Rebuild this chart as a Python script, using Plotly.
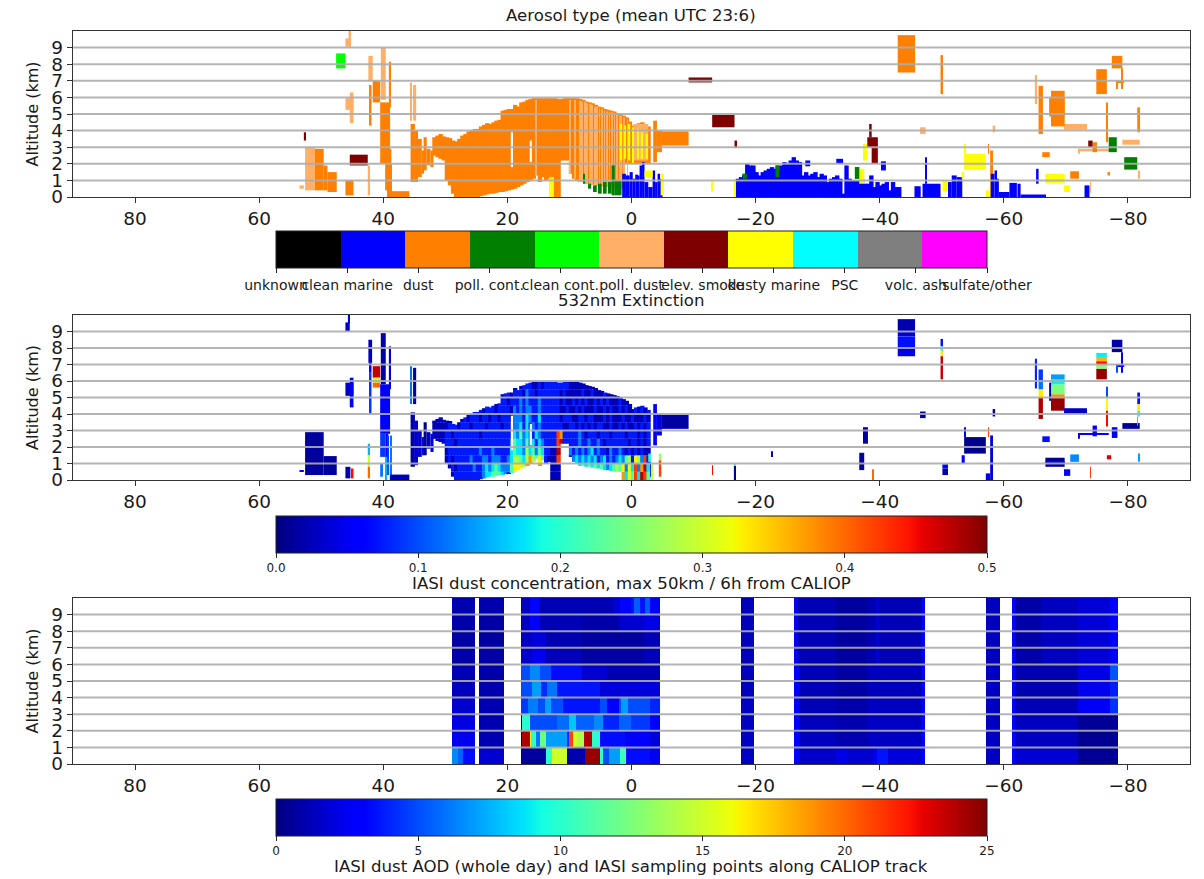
import plotly.graph_objects as go

# ---------- tick labels / categories ----------
LON_TICKS = [80, 60, 40, 20, 0, -20, -40, -60, -80]
ALT_TICKS = [0, 1, 2, 3, 4, 5, 6, 7, 8, 9]
TYPE_NAMES = ["unknown", "clean marine", "dust", "poll. cont.", "clean cont.", "poll. dust",
              "elev. smoke", "dusty marine", "PSC", "volc. ash", "sulfate/other"]
TYPE_COLORS = ["#000000", "#0000ff", "#ff7f00", "#007f00", "#00ff00", "#ffb066",
               "#7f0000", "#ffff00", "#00ffff", "#7f7f7f", "#ff00ff"]
EXT_TICKS = [0.0, 0.1, 0.2, 0.3, 0.4, 0.5]
CONC_TICKS = [0, 5, 10, 15, 20, 25]

# ---------- dome of the Saharan dust layer: half-degree columns from 32E westward ----------
DOME_START = 32.0
DOME_STEP = 0.5
DOME_TOP = [3.6, 3.7, 3.8, 3.65, 3.6, 3.55, 3.4, 3.35, 3.5, 3.7, 3.8, 3.95, 4.0, 4.1, 4.1, 4.25, 4.35, 4.45, 4.4, 4.5,
            4.6, 4.65, 5.2, 5.25, 5.3, 5.3, 5.55, 5.45, 5.7, 5.75, 5.85, 5.9, 5.95, 5.95, 5.95, 5.95, 5.95, 5.95, 5.95, 5.95,
            5.9, 5.9, 5.95, 5.95, 5.95, 5.95, 5.95, 5.9, 5.85, 5.75, 5.7, 5.65, 5.55, 5.45, 5.4, 5.3, 5.25, 5.2, 5.15, 5.05,
            5.0, 4.9, 4.8, 4.55, 4.3, 4.4, 4.45, 4.5, 4.4, 4.25]
DOME_BOTTOM = [2.5, 2.4, 2.3, 2.2, 1.0, 0.7, 0.2, 0, 0, 0, 0, 0, 0, 0, 0, 0.05, 0.1, 0.15, 0.2, 0.2,
               0.25, 0.3, 0.3, 0.35, 0.4, 0.45, 0.5, 0.6, 0.7, 0.8, 0.9, 1.0, 1.1, 1.3, 0.9, 1.2, 1.0, 1.1, 0, 0,
               0, 2.2, 2.2, 2.2, 1.4, 1.1, 1.0, 0.9, 0.9, 0.8, 0.8, 0.75, 0.7, 0.7, 0.65, 0.6, 0.6, 0.55, 0.5, 0.5,
               0.5, 0, 0, 0, 0, 0, 0, 0, 0, 0]

# extinction in the dome, one string per 0.5 km band (lowest first), digit d = 0.025 + 0.05 d
DOME_EXT_ROWS = [
    "0000000111" "1111112334" "4432146779" "9989999900" "0023343454" "6474573545" "3736483984",
    "0000001011" "1112112323" "4322246665" "7867746800" "0312234343" "4343432345" "4626382793",
    "0000010111" "1121112212" "2211235543" "5754641000" "8312123232" "3231231212" "3245165281",
    "0001011111" "1111121112" "1111134332" "5342431100" "9711212121" "2312110211" "2101010100",
    "0000111011" "1111111111" "1111124332" "4231321111" "8911111211" "2112101111" "1110110101",
    "0000110111" "1111101111" "1111113242" "3213211111" "8711111210" "1110111011" "1101110101",
    "0000011101" "1101111011" "1101112231" "3121211111" "1100110101" "0101100100" "1010010101",
    "0000001110" "1011101101" "1011102221" "3211311111" "1011100110" "1100010100" "0100100010",
    "0000000000" "0101110111" "0111102121" "2211211111" "1001001010" "0010010100" "1010010101",
    "0000000000" "0000000000" "0111011121" "2111211111" "1010010101" "0010101000" "1000100000",
    "0000000000" "0000000000" "0101101110" "2110111111" "1010000010" "0100010000" "0000000000",
    "0000000000" "0000000000" "0000000001" "1100101111" "1111000000" "0000000000" "0000000000",
]
DOME_GAPS = [(19.45, 19.15, 1.8, 3.9), (16.4, 16.05, 2.1, 3.4)]

# ---------- aerosol type blocks: lon left, lon right, bottom km, top km ----------
POLL_DUST_BLOCKS = [
    (53.5, 52.8, 0.5, 0.7), (52.6, 51.0, 0.4, 3.0), (46.1, 45.3, 9.05, 9.55), (45.6, 45.3, 9.0, 10.0),
    (46.1, 44.8, 5.25, 5.95), (45.4, 44.8, 4.45, 6.3), (42.5, 42.2, 0.1, 1.9), (42.4, 41.7, 7.0, 8.5),
    (40.4, 39.6, 5.85, 9.0), (35.6, 35.4, 4.6, 6.9), (35.2, 34.7, 4.6, 6.75),
    (-0.3, -2.7, 2.2, 4.4), (-46.5, -47.4, 3.8, 4.2), (-58.2, -58.6, 3.9, 4.3), (-65.0, -65.2, 5.6, 7.35),
    (-69.7, -73.4, 4.05, 4.4), (-72.1, -77.0, 2.75, 2.9), (-79.1, -81.9, 3.15, 3.45), (-81.7, -81.8, 1.1, 1.6),
    (-73.9, -74.0, 0.25, 0.9), (-72.1, -72.2, 2.6, 2.9),
]
DUST_STRIPES = [15.5, 10.0, 9.2, 8.4, 8.0, 7.6, 7.2, 6.8, 6.4, 6.0, 5.6, 5.2, 4.8, 4.4, 4.0, 3.6, 3.2, 2.8, 2.4, 2.0, 1.7, 1.3, 0.7]
DUST_BLOCKS = [
    (51.0, 49.6, 0.4, 2.9), (49.6, 49.0, 0.4, 1.9), (49.0, 47.5, 0.3, 1.5), (46.1, 44.8, 0.1, 1.0),
    (42.3, 41.9, 4.3, 6.75), (41.7, 40.5, 5.7, 7.0), (40.5, 38.9, 2.6, 5.7), (40.5, 39.4, 2.0, 2.6),
    (39.1, 38.8, 5.4, 8.15), (39.7, 38.7, 0.4, 2.9), (39.4, 38.6, 0.0, 2.0), (38.9, 35.8, 0.0, 0.35),
    (35.6, 34.9, 0.9, 4.4), (34.9, 34.4, 0.9, 4.0), (34.4, 33.8, 1.2, 3.5), (33.8, 33.5, 1.4, 2.8), (33.5, 33.0, 1.6, 3.6),
    (33.0, 32.4, 1.9, 2.9), (32.4, 31.9, 1.8, 2.8), (-3.5, -4.1, 2.1, 4.6), (-4.1, -4.9, 2.7, 4.0), (-4.9, -9.2, 3.1, 3.95),
    (-42.9, -45.7, 7.5, 9.75), (-49.8, -50.1, 6.2, 8.55), (-57.5, -57.6, 2.6, 3.2), (-57.8, -58.1, 0.0, 2.8),
    (-65.6, -66.3, 3.8, 6.7), (-67.3, -69.8, 4.85, 6.0), (-67.6, -69.8, 4.25, 6.4), (-66.2, -67.4, 2.4, 2.7),
    (-70.7, -72.1, 1.1, 1.55), (-74.3, -75.0, 2.7, 3.3), (-74.9, -76.6, 6.2, 7.7), (-76.6, -76.7, 3.3, 5.7),
    (-76.7, -77.0, 1.3, 1.5), (-77.4, -79.1, 7.75, 8.5), (-79.0, -79.2, 6.5, 7.75), (-78.2, -79.4, 6.9, 7.0),
    (-78.2, -78.3, 6.5, 7.0), (-81.5, -81.8, 3.9, 5.4),
]
CLEAN_CONT_BLOCKS = [(47.6, 46.1, 7.75, 8.65)]
SMOKE_BLOCKS = [
    (52.8, 52.6, 3.4, 3.9), (45.4, 42.5, 1.9, 2.55), (-9.2, -13.0, 6.9, 7.2), (-13.0, -16.6, 4.2, 4.95),
    (-16.6, -17.0, 2.95, 3.4), (-38.0, -39.7, 3.0, 3.6), (-38.7, -39.7, 2.0, 3.0), (-38.3, -38.7, 3.6, 4.4),
    (-73.6, -74.3, 3.0, 3.4),
]
POLL_CONT_BLOCKS = [
    (7.8, 7.5, 0.8, 1.4), (7.0, 6.5, 0.5, 0.8), (6.2, 5.6, 0.3, 0.7), (5.4, 4.8, 0.2, 0.8), (4.6, 4.0, 0.2, 0.9),
    (3.8, 3.2, 0.2, 0.9), (3.2, 2.7, 0.1, 1.9), (2.7, 1.6, 0.1, 1.0),
    (-23.2, -23.8, 1.2, 1.9), (-17.9, -18.6, 1.1, 1.4), (-36.0, -36.7, 1.1, 1.8), (-76.9, -78.2, 2.7, 3.6),
    (-79.4, -81.5, 1.65, 2.4),
]
MARINE_START = -16.9
MARINE_STEP = -0.5
MARINE_TOPS = [1.1, 1.2, 1.3, 2.0, 1.9, 1.9, 1.5, 1.3, 1.5, 1.6, 1.7, 1.8, 1.7, 1.6, 1.9, 2.1, 2.0, 2.2, 2.4, 2.2,
               2.1, 1.3, 1.5, 1.3, 1.4, 1.5, 1.2, 1.4, 1.3, 0.9, 1.1, 1.2, 1.3, 1.1, 0.2, 1.9, 1.1, 1.0, 1.0, 1.0,
               1.1, 0.8, 0.8, 1.3, 0.6, 0.9, 0.7, 0.8, 0.9, 0.4, 0.9, 0.6, 0.6]
MARINE_BLOCKS = [
    (1.5, 0.9, 0.0, 1.4), (0.9, 0.3, 0.0, 1.3), (0.3, -0.2, 0.0, 1.5), (-0.2, -0.6, 0.0, 1.1), (-0.6, -0.9, 0.0, 1.35),
    (-0.9, -1.3, 0.0, 1.3), (-1.3, -1.7, 0.0, 1.9), (-1.7, -2.1, 0.0, 2.1), (-2.1, -2.7, 0.0, 0.9), (-2.7, -3.4, 0.0, 0.6),
    (-3.4, -3.8, 0.0, 1.6), (-3.8, -4.2, 0.0, 0.9), (-4.2, -4.6, 0.0, 1.4), (-4.6, -5.0, 0.0, 1.1),
    (-28.0, -28.8, 1.85, 2.2), (-33.0, -34.1, 2.0, 2.3), (-40.2, -41.0, 1.6, 2.15), (-45.6, -46.6, 0.0, 0.65),
    (-46.9, -49.8, 0.0, 0.8), (-47.3, -47.6, 0.8, 2.4), (-51.0, -51.6, 0.0, 0.9), (-51.6, -52.4, 0.0, 1.3),
    (-52.4, -53.3, 0.0, 1.2), (-57.9, -58.5, 0.0, 1.4), (-58.5, -58.8, 0.0, 1.6), (-58.8, -59.2, 0.0, 1.1),
    (-59.2, -60.9, 0.0, 0.3), (-60.9, -62.1, 0.0, 0.85), (-62.2, -62.7, 0.0, 0.8), (-62.7, -66.8, 0.0, 0.15),
    (-65.2, -65.6, 0.8, 1.7), (-73.0, -73.8, 0.0, 0.7),
]
DUSTY_MARINE_BLOCKS = [
    (1.9, 1.5, 2.2, 4.4), (1.2, 0.9, 2.3, 4.3), (0.6, 0.2, 2.2, 4.4), (-0.1, -0.4, 2.0, 4.2), (-0.9, -1.1, 2.3, 4.1),
    (-1.5, -1.7, 2.3, 3.9), (-2.3, -2.5, 2.3, 3.8), (-2.1, -3.4, 1.2, 1.6), (-4.7, -5.2, 0.1, 1.4),
    (13.3, 12.5, 0.0, 1.2), (-12.9, -13.1, 0.35, 1.0), (-16.5, -16.8, 0.0, 1.0), (-36.7, -37.5, 0.8, 1.7),
    (-37.3, -38.0, 2.2, 3.2), (-50.1, -51.0, 0.35, 1.0), (-53.2, -53.6, 1.1, 1.5), (-53.6, -57.1, 1.65, 2.6),
    (-53.6, -53.9, 2.6, 3.2), (-57.1, -57.6, 0.0, 0.4), (-66.7, -69.8, 0.85, 1.4), (-69.7, -70.7, 0.3, 0.7),
]

# ---------- extinction blocks: lon left, lon right, bottom km, top km, extinction ----------
EXT_LEFT_BLOCKS = [
    (53.5, 52.8, 0.5, 0.6, 0.06), (52.6, 49.6, 0.3, 2.9, 0.012), (49.6, 47.5, 0.3, 1.45, 0.012),
    (46.1, 45.4, 9.0, 9.55, 0.03), (45.7, 45.4, 9.5, 10.0, 0.05), (46.1, 44.8, 5.1, 5.9, 0.03),
    (45.4, 44.8, 4.4, 6.2, 0.05), (46.1, 45.3, 0.1, 0.8, 0.02), (45.2, 44.8, 0.1, 0.7, 0.45),
    (42.5, 42.2, 1.5, 2.2, 0.15), (42.5, 42.2, 0.8, 1.5, 0.3), (42.5, 42.2, 0.1, 0.8, 0.4),
    (42.4, 41.8, 7.1, 8.5, 0.03), (42.3, 41.9, 6.5, 7.1, 0.05), (42.3, 41.9, 4.0, 6.5, 0.09),
    (41.7, 40.5, 6.2, 6.9, 0.47), (41.7, 40.5, 5.9, 6.2, 0.3), (41.7, 40.5, 5.6, 5.9, 0.4),
    (40.4, 39.6, 5.8, 8.9, 0.02), (40.5, 38.9, 2.8, 5.8, 0.06), (40.5, 39.6, 1.4, 2.8, 0.09),
    (39.6, 39.2, 1.4, 2.8, 0.05), (39.1, 38.8, 5.5, 8.1, 0.04),
    (40.5, 40.2, 0.2, 1.0, 0.12), (39.7, 39.4, 0.0, 1.4, 0.15), (39.4, 39.1, 0.3, 2.7, 0.09), (39.1, 38.9, 0.0, 1.2, 0.3),
    (38.9, 38.6, 0.0, 2.7, 0.12), (38.9, 35.8, 0.0, 0.33, 0.03),
    (35.6, 35.4, 4.6, 6.9, 0.12), (35.2, 34.7, 4.6, 6.8, 0.02), (35.6, 34.9, 0.8, 4.1, 0.02), (34.9, 34.4, 0.9, 3.6, 0.04),
    (34.4, 33.8, 1.4, 3.0, 0.03), (33.8, 33.5, 1.5, 2.6, 0.05), (33.5, 33.0, 1.5, 3.5, 0.01), (33.0, 32.4, 1.9, 2.9, 0.03),
    (32.4, 31.9, 1.7, 2.8, 0.04),
]
EXT_TAIL_BLOCKS = [
    (-3.5, -4.1, 2.1, 4.6, 0.06), (-4.1, -4.9, 2.7, 4.0, 0.04), (-4.9, -9.2, 3.1, 3.95, 0.015),
    (-2.7, -3.0, 1.1, 1.6, 0.2), (-3.0, -3.2, 0.2, 1.0, 0.08), (-3.2, -3.4, 0.0, 1.0, 0.3),
    (-4.4, -4.8, 0.2, 1.2, 0.42), (-4.4, -4.8, 1.2, 1.6, 0.27),
    (-13.0, -13.1, 0.3, 0.9, 0.45), (-16.5, -16.8, 0.0, 0.9, 0.01), (-16.5, -16.8, 0.9, 0.95, 0.2),
    (-22.6, -22.8, 1.4, 1.75, 0.03),
]
EXT_SOUTH_BLOCKS = [
    (-36.7, -37.5, 0.6, 1.65, 0.015), (-37.3, -38.1, 2.2, 3.2, 0.015), (-38.9, -39.0, 0.0, 0.65, 0.4),
    (-42.9, -45.7, 9.0, 9.75, 0.02), (-42.9, -45.7, 8.7, 9.0, 0.04), (-42.9, -45.7, 8.0, 8.7, 0.07),
    (-42.9, -45.7, 7.5, 8.0, 0.045),
    (-46.5, -47.4, 3.75, 4.15, 0.015),
    (-49.8, -50.1, 8.1, 8.55, 0.07), (-49.8, -50.1, 7.8, 8.1, 0.2), (-49.8, -50.1, 7.5, 7.8, 0.33), (-49.8, -50.1, 6.1, 7.5, 0.47),
    (-50.1, -51.0, 0.3, 0.7, 0.02), (-50.1, -51.0, 0.7, 0.95, 0.06), (-53.2, -53.7, 1.0, 1.5, 0.05),
    (-53.6, -57.1, 1.6, 2.6, 0.005), (-53.6, -53.9, 2.6, 3.2, 0.05), (-57.5, -57.6, 2.6, 3.2, 0.42),
    (-57.1, -57.8, 0.0, 0.4, 0.05), (-57.8, -58.1, 0.0, 2.7, 0.04), (-58.2, -58.6, 3.85, 4.3, 0.015),
]
EXT_FAR_SOUTH_BLOCKS = [
    (-65.0, -65.2, 5.55, 7.35, 0.08),
    (-65.6, -66.3, 3.7, 5.0, 0.48), (-65.6, -66.3, 5.0, 5.5, 0.33), (-65.6, -66.3, 5.5, 6.0, 0.12), (-65.6, -66.3, 6.0, 6.7, 0.09),
    (-67.3, -67.7, 4.8, 5.9, 0.02),
    (-67.6, -69.8, 4.2, 5.0, 0.49), (-67.6, -69.8, 5.0, 5.2, 0.38), (-67.6, -69.8, 5.2, 5.8, 0.25),
    (-67.6, -69.8, 5.8, 6.1, 0.18), (-67.6, -69.8, 6.1, 6.4, 0.14),
    (-69.7, -73.4, 4.0, 4.35, 0.03), (-66.2, -67.4, 2.3, 2.65, 0.07), (-66.7, -69.8, 0.8, 1.35, 0.01),
    (-66.7, -69.8, 1.05, 1.1, 0.05), (-69.7, -70.7, 0.25, 0.65, 0.06), (-70.7, -72.1, 1.1, 1.55, 0.13),
    (-73.9, -74.0, 0.1, 0.8, 0.42), (-72.1, -76.9, 2.75, 2.85, 0.06), (-72.1, -72.2, 2.5, 2.85, 0.06),
    (-74.3, -75.0, 2.65, 3.3, 0.05),
    (-74.9, -76.6, 6.1, 6.75, 0.49), (-74.9, -76.6, 6.75, 7.0, 0.26), (-74.9, -76.6, 7.0, 7.2, 0.45),
    (-74.9, -76.6, 7.2, 7.4, 0.36), (-74.9, -76.6, 7.4, 7.7, 0.18),
    (-76.6, -76.7, 5.0, 5.65, 0.1), (-76.6, -76.7, 4.2, 5.0, 0.32), (-76.6, -76.7, 3.25, 4.2, 0.45),
    (-76.6, -77.3, 1.25, 1.5, 0.46), (-77.4, -78.3, 2.55, 3.2, 0.05),
    (-77.4, -79.1, 7.75, 8.5, 0.015), (-79.0, -79.2, 6.5, 7.75, 0.05), (-78.2, -79.4, 6.9, 7.0, 0.06), (-78.2, -78.3, 6.5, 7.0, 0.1),
    (-79.1, -81.9, 3.1, 3.45, 0.01), (-81.5, -81.8, 4.6, 5.3, 0.07), (-81.5, -81.8, 4.2, 4.6, 0.33), (-81.5, -81.8, 3.85, 4.2, 0.2),
    (-81.5, -81.6, 3.3, 3.85, 0.17), (-81.7, -81.8, 1.1, 1.6, 0.14),
]

# ---------- IASI dust concentration: (western-bound start lon, value) runs, one per km band ----------
IASI_BLOCKS = [(28.9, 25.2), (24.5, 20.6), (17.8, -4.6), (-17.7, -19.8), (-26.3, -47.4), (-57.3, -59.4), (-61.4, -61.7), (-61.85, -78.4)]
SOUTH_UPPER = [(-17.7, 1.3), (-26.3, 3.0), (-26.9, 1.2), (-33, 0.7), (-38, 1.1), (-39.5, 1.7), (-40, 1.2), (-46.8, 3.0),
               (-57.3, 1.4), (-61.4, 3.2), (-61.85, 0.9), (-66, 1.4), (-72, 1.9), (-77.3, 3.0)]
IASI_R0 = [(28.9, 6.5), (28.0, 5.5), (27.2, 3.4), (24.5, 1.7), (17.8, 0.6), (13.7, 10), (12.8, 15), (10.3, 1.0), (7.3, 24.5),
           (5.0, 10), (4.5, 5.0), (3.5, 7), (1.8, 10.5), (0.8, 3.4), (-3, 2.5), (-17.7, 1.5), (-26.3, 3.0), (-27, 1.6), (-33, 2.2),
           (-35, 1.7), (-39, 2.4), (-39.6, 3.6), (-41.5, 2.0), (-46.8, 3.2), (-57.3, 1.5), (-61.4, 3.2), (-61.85, 1.8), (-72.1, 0.5)]
IASI_R1 = [(28.9, 2.4), (24.5, 1.1), (17.6, 24), (16.4, 16), (16.1, 10), (15.3, 6), (14.7, 12), (13.7, 7), (10.4, 4),
           (9.9, 21), (9.3, 15), (8.8, 14), (7.6, 24), (6.4, 10), (5.0, 3.4), (1, 2.8), (-3, 2.0), (-17.7, 1.5), (-26.3, 2.8),
           (-27, 1.4), (-33, 1.0), (-38, 1.5), (-46.8, 3.0), (-57.3, 1.5), (-61.4, 3.2), (-61.85, 1.4), (-72.1, 0.4)]
IASI_R2 = [(28.9, 2.1), (24.5, 1.1), (17.6, 10), (16.4, 5), (12, 5.8), (9.9, 8), (9.0, 5.5), (6, 6.5), (4.5, 4), (2, 5.5),
           (0, 4.5), (-3, 3.0), (-17.7, 1.5), (-26.3, 2.8), (-27, 1.3), (-33, 1.0), (-38, 1.5), (-46.8, 2.8), (-57.3, 1.5),
           (-61.4, 3.2), (-61.85, 1.4), (-72.1, 0.5)]
IASI_R3 = [(28.9, 1.7), (24.5, 1.1), (17.8, 4.5), (16.5, 6.2), (15, 5), (14, 7), (13, 5), (11, 3.6), (5, 5), (4, 3),
           (2, 5), (1.5, 7), (0.5, 5), (-3, 4), (-17.7, 1.5), (-26.3, 2.8), (-27, 1.2), (-33, 0.9), (-38, 1.4), (-46.8, 2.8),
           (-57.3, 1.5), (-61.4, 3.2), (-61.85, 1.2), (-72.1, 2.6), (-77.3, 4.3)]
IASI_R4 = [(28.9, 1.3), (24.5, 1.0), (17.8, 5), (16, 7), (14.5, 4.2), (13.5, 6), (12, 3.6), (5, 2.0), (-17.7, 1.3), (-26.3, 2.8),
           (-27, 1.2), (-33, 0.8), (-38, 1.3), (-46.8, 2.8), (-57.3, 1.5), (-61.4, 3.2), (-61.85, 1.1), (-72.1, 2.4), (-77.3, 3.8)]
IASI_R5 = [(28.9, 1.1), (24.5, 0.9), (17.8, 5), (16.3, 6.5), (14.7, 5), (13, 3.4), (8, 1.7), (4, 1.1), (-17.7, 1.3), (-26.3, 2.8),
           (-27, 1.2), (-33, 0.7), (-38, 1.3), (-46.8, 2.8), (-57.3, 1.5), (-61.4, 3.2), (-61.85, 1.0), (-72.1, 2.2), (-77.3, 5.2)]
IASI_R6 = [(28.9, 0.9), (24.5, 0.8), (17.8, 1.6), (16, 2.4), (14, 1.3), (8, 0.8), (-2, 1.3)] + SOUTH_UPPER
IASI_R7 = [(28.9, 0.8), (24.5, 0.7), (17.8, 1.5), (16, 2.0), (14, 1.1), (8, 0.7), (-2, 1.2)] + SOUTH_UPPER
IASI_R8 = [(28.9, 0.9), (24.5, 0.8), (17.8, 1.4), (16.3, 2.8), (14.7, 1.2), (8, 0.9), (2, 1.8), (-2, 2.2)] + SOUTH_UPPER
IASI_R9 = [(28.9, 1.1), (24.5, 1.0), (17.8, 1.5), (16.3, 3.2), (14.7, 1.2), (3, 1.9), (1.8, 3.2), (0, 3.6), (-0.5, 5.4),
           (-1.5, 3.6), (-2.2, 5.4), (-3, 3.0)] + SOUTH_UPPER
IASI_ROWS = [IASI_R0, IASI_R1, IASI_R2, IASI_R3, IASI_R4, IASI_R5, IASI_R6, IASI_R7, IASI_R8, IASI_R9]
IASI_GRID_STEP = 0.2

# ---------- helpers ----------
def mpl_jet():
    pts = [0, 0.11, 0.125, 0.34, 0.35, 0.375, 0.64, 0.65, 0.66, 0.89, 0.91, 1]
    def lerp(t, tbl):
        for (a, va), (b, vb) in zip(tbl, tbl[1:]):
            if a <= t <= b:
                return va + (vb - va) * (t - a) / (b - a)
    R = [(0, 0), (0.35, 0), (0.66, 1), (0.89, 1), (1, 0.5)]
    G = [(0, 0), (0.125, 0), (0.375, 1), (0.64, 1), (0.91, 0), (1, 0)]
    B = [(0, 0.5), (0.11, 1), (0.34, 1), (0.65, 0), (1, 0)]
    return [[t, f"rgb({lerp(t,R)*255:.0f},{lerp(t,G)*255:.0f},{lerp(t,B)*255:.0f})"] for t in pts]

JET = mpl_jet()
TYPE_SCALE = []
for k, c in enumerate(TYPE_COLORS):
    TYPE_SCALE += [[k / 11, c], [(k + 1) / 11, c]]

W, H = 1204, 879
AX_L, AX_R = 73, 1190
PANELS = [(31, 197), (315, 480), (598, 764)]
CBARS = [231, 516, 799]
CB_L, CB_W, CB_T = 276, 711, 37
FONT = "DejaVu Sans"
TXT = "#1a1a1a"
AX_IDS = ["", "2", "3"]
OVERLAP = 0.1   # half-degree columns overlap by this much on each side, so no seam shows


def bar_trace(blocks, colors, suffix, **marker):
    return go.Bar(
        x=[(b[0] + b[1]) / 2 for b in blocks], width=[abs(b[0] - b[1]) for b in blocks],
        base=[b[2] for b in blocks], y=[b[3] - b[2] for b in blocks],
        marker=dict(color=colors, line=dict(width=0), **marker),
        xaxis=f"x{suffix}", yaxis=f"y{suffix}", showlegend=False, hoverinfo="skip")


def colorbar(top, tickvals, ticktext, size):
    return dict(orientation="h", lenmode="pixels", len=CB_W, thicknessmode="pixels", thickness=CB_T,
                x=CB_L / W, xanchor="left", xref="paper", y=1 - top / H, yanchor="top", yref="paper",
                tickvals=tickvals, ticktext=ticktext, ticks="outside", ticklen=5, tickwidth=1, tickcolor="#222",
                tickangle=0, tickfont=dict(family=FONT, size=size, color=TXT), outlinecolor="#222", outlinewidth=1,
                ypad=0, xpad=0)


# ---------- panel 1: aerosol type ----------
def dome_lon(i):
    return DOME_START - DOME_STEP * i

type_blocks, type_codes = [], []
def add_type(blocks, code):
    for b in blocks:
        type_blocks.append(b)
        type_codes.append(code + 0.5)

add_type([(dome_lon(i) + OVERLAP, dome_lon(i + 1) - OVERLAP,
           max(DOME_BOTTOM[i], 2.0) if i >= 61 else DOME_BOTTOM[i], DOME_TOP[i])
          for i in range(len(DOME_TOP))], 2)
add_type([(s, s - 0.12, DOME_BOTTOM[int((DOME_START - s) / DOME_STEP)], DOME_TOP[int((DOME_START - s) / DOME_STEP)] - 0.1)
          for s in DUST_STRIPES], 5)
add_type(POLL_DUST_BLOCKS, 5)
add_type(DUST_BLOCKS, 2)
add_type(CLEAN_CONT_BLOCKS, 4)
add_type(POLL_CONT_BLOCKS, 3)
add_type([(MARINE_START + MARINE_STEP * k + OVERLAP, MARINE_START + MARINE_STEP * (k + 1) - OVERLAP, 0.0, t)
          for k, t in enumerate(MARINE_TOPS)], 1)
add_type(MARINE_BLOCKS, 1)
add_type(DUSTY_MARINE_BLOCKS, 7)
add_type(POLL_CONT_BLOCKS[8:11], 3)
add_type(SMOKE_BLOCKS, 6)

# ---------- panel 2: extinction ----------
ext_blocks, ext_vals = [], []
for r, row in enumerate(DOME_EXT_ROWS):
    for i, ch in enumerate(row):
        lo, hi = max(r * 0.5, DOME_BOTTOM[i]), min((r + 1) * 0.5, DOME_TOP[i])
        if hi > lo:
            ext_blocks.append((dome_lon(i) + OVERLAP, dome_lon(i + 1) - OVERLAP, lo, hi))
            ext_vals.append(0.025 + 0.05 * int(ch))
for group in (EXT_LEFT_BLOCKS, EXT_TAIL_BLOCKS, EXT_SOUTH_BLOCKS, EXT_FAR_SOUTH_BLOCKS):
    for b in group:
        ext_blocks.append(b[:4])
        ext_vals.append(b[4])

# ---------- panel 3: IASI ----------
n_cols = int(round((30 + 79) / IASI_GRID_STEP))
iasi_x = [30 - IASI_GRID_STEP * (k + 0.5) for k in range(n_cols)]
iasi_z = []
for row in IASI_ROWS:
    vals = []
    for lon in iasi_x:
        inside = any(a >= lon >= b for a, b in IASI_BLOCKS)
        v = None
        if inside:
            for start, val in row:
                if lon <= start:
                    v = val
        vals.append(v)
    iasi_z.append(vals)

fig = go.Figure()
fig.add_trace(bar_trace(type_blocks, type_codes, "", colorscale=TYPE_SCALE, cmin=0, cmax=11, showscale=True,
                        colorbar=colorbar(CBARS[0], [i * 1.1 for i in range(11)], TYPE_NAMES, 14)))
fig.add_trace(bar_trace(ext_blocks, ext_vals, "2", colorscale=JET, cmin=0, cmax=0.5, showscale=True,
                        colorbar=colorbar(CBARS[1], EXT_TICKS, [f"{v:.1f}" for v in EXT_TICKS], 12)))
fig.add_trace(bar_trace(DOME_GAPS, ["#ffffff"] * len(DOME_GAPS), ""))
fig.add_trace(bar_trace(DOME_GAPS, ["#ffffff"] * len(DOME_GAPS), "2"))
fig.add_trace(go.Heatmap(x=iasi_x, y=[a + 0.5 for a in ALT_TICKS], z=iasi_z, zmin=0, zmax=25, colorscale=JET,
                         xaxis="x3", yaxis="y3", hoverinfo="skip", hoverongaps=False,
                         colorbar=colorbar(CBARS[2], CONC_TICKS, [str(v) for v in CONC_TICKS], 12)))

layout = dict(width=W, height=H, autosize=False, paper_bgcolor="white", plot_bgcolor="white",
              margin=dict(l=0, r=0, t=0, b=0, autoexpand=False), barmode="overlay", showlegend=False,
              font=dict(family=FONT, color=TXT))
shapes = []
for sfx, (top, bottom) in zip(AX_IDS, PANELS):
    layout[f"xaxis{sfx}"] = dict(domain=[AX_L / W, AX_R / W], range=[90, -90], tickvals=LON_TICKS, showgrid=False,
                                 zeroline=False, ticks="outside", ticklen=5, tickwidth=1.2, tickcolor="#333",
                                 tickfont=dict(family=FONT, size=18.5, color=TXT), showline=True, mirror=True,
                                 linecolor="#333", linewidth=1.4, anchor=f"y{sfx}", tickangle=0)
    layout[f"yaxis{sfx}"] = dict(domain=[1 - bottom / H, 1 - top / H], range=[0, 10], tickvals=ALT_TICKS, showgrid=False,
                                 zeroline=False, ticks="outside", ticklen=5, tickwidth=1.2, tickcolor="#333",
                                 tickfont=dict(family=FONT, size=18.5, color=TXT), showline=True, mirror=True,
                                 linecolor="#333", linewidth=1.4, anchor=f"x{sfx}",
                                 title=dict(text="Altitude (km)", font=dict(family=FONT, size=16, color=TXT), standoff=8))
    for a in ALT_TICKS[1:]:
        shapes.append(dict(type="line", xref=f"x{sfx} domain", yref=f"y{sfx}", x0=0, x1=1, y0=a, y1=a, layer="above",
                           line=dict(color="rgba(172,172,172,0.9)", width=2)))
layout["shapes"] = shapes

TITLES = [("Aerosol type (mean UTC 23:6)", 15), ("532nm Extinction", 300),
          ("IASI dust concentration, max 50km / 6h from CALIOP", 583),
          ("IASI dust AOD (whole day) and IASI sampling points along CALIOP track", 866)]
layout["annotations"] = [dict(text=t, x=631 / W, y=1 - y / H, xref="paper", yref="paper", showarrow=False,
                              xanchor="center", yanchor="middle",
                              font=dict(family=FONT, size=16.6, color=TXT)) for t, y in TITLES]
fig.update_layout(**layout)
fig.write_html("out.html", post_script="document.body.style.margin='0';", config={"displayModeBar": False})
